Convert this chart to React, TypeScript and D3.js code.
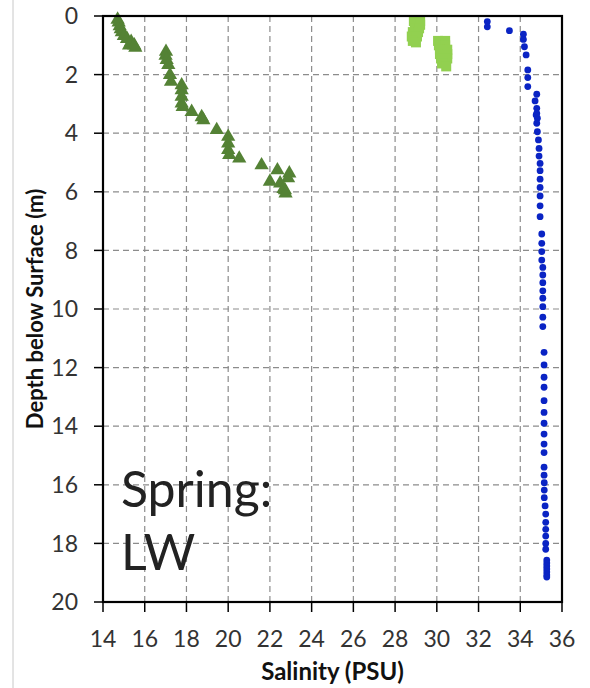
import React from "react";
import * as d3 from "d3";

const xTicks = [14, 16, 18, 20, 22, 24, 26, 28, 30, 32, 34, 36];
const yTicks = [0, 2, 4, 6, 8, 10, 12, 14, 16, 18, 20];

const triS = [14.7, 14.75, 14.8, 14.85, 14.9, 15.0, 15.15, 15.35, 15.25, 15.5, 15.55,
  17.02, 17.0, 17.05, 17.13, 17.21, 17.26, 17.77, 17.77, 17.77, 17.77, 17.82, 18.25, 18.73, 18.81, 19.45,
  20.0, 20.0, 20.0, 20.05, 20.53, 21.6, 22.36, 22.93, 22.87, 22.0, 22.49, 22.65, 22.72, 22.75];
const triD = [0.12, 0.22, 0.35, 0.45, 0.55, 0.68, 0.78, 0.88, 1.0, 1.0, 1.08,
  1.22, 1.35, 1.5, 1.67, 2.01, 2.24, 2.36, 2.53, 2.75, 2.98, 3.1, 3.27, 3.45, 3.55, 3.89,
  4.12, 4.35, 4.57, 4.74, 4.86, 5.09, 5.26, 5.37, 5.53, 5.65, 5.71, 5.9, 5.94, 6.05];

const sqS = [28.9, 29.2, 28.95, 29.2, 29.0, 29.15, 28.85, 29.1, 28.8, 29.05, 28.85, 29.0,
  30.06, 30.4, 30.1, 30.4, 30.15, 30.5, 30.15, 30.5, 30.2, 30.5, 30.25, 30.45];
const sqD = [0.17, 0.17, 0.3, 0.3, 0.42, 0.42, 0.55, 0.55, 0.7, 0.7, 0.85, 0.9,
  0.85, 0.85, 1.0, 1.0, 1.15, 1.15, 1.3, 1.3, 1.45, 1.45, 1.62, 1.72];

const dotS = [32.42, 32.42, 33.48, 34.15, 34.15, 34.2, 34.28, 34.36, 34.36, 34.36,
  34.79, 34.71, 34.79, 34.79, 34.82, 34.76, 34.79, 34.82, 34.87, 34.9, 34.9, 34.95, 34.95, 34.95, 34.95, 34.95, 34.95, 34.95,
  35.03, 35.03, 35.03, 35.03, 35.08, 35.08, 35.08, 35.08, 35.08, 35.08, 35.08, 35.08,
  35.14, 35.14, 35.14, 35.14, 35.14, 35.14, 35.14, 35.14, 35.14, 35.14, 35.14, 35.14, 35.15, 35.15, 35.15,
  35.19, 35.22, 35.22, 35.22, 35.22, 35.22, 35.22,
  35.27, 35.27, 35.27, 35.27, 35.27, 35.27, 35.27];
const dotD = [0.19, 0.37, 0.5, 0.62, 0.8, 1.05, 1.33, 1.84, 2.1, 2.41,
  2.67, 2.9, 3.15, 3.32, 3.49, 3.38, 3.66, 3.95, 4.23, 4.52, 4.78, 5.03, 5.28, 5.57, 5.85, 6.14, 6.48, 6.85,
  7.44, 7.76, 8.04, 8.33, 8.58, 8.84, 9.1, 9.38, 9.63, 9.92, 10.28, 10.6,
  11.48, 11.91, 12.33, 12.67, 13.13, 13.53, 13.9, 14.27, 14.61, 14.9, 15.4, 15.67, 15.93, 16.18, 16.44,
  16.72, 17.0, 17.28, 17.52, 17.75, 18.0, 18.2,
  18.57, 18.67, 18.77, 18.87, 18.98, 19.08, 19.15];

const W = 590, H = 688;
const L = 103, R = 562, T = 16, B = 602;

export default function App() {
  const x = d3.scaleLinear().domain([14, 36]).range([L, R]);
  const y = d3.scaleLinear().domain([0, 20]).range([T, B]);
  const tri = d3.symbol().type(d3.symbolTriangle).size(88)() as string;
  const font = "Lato, 'Open Sans', sans-serif";
  const sq = 10;
  return (
    <svg width={W} height={H} style={{ position: "absolute", left: 0, top: 0, background: "#fff" }}>
      <rect x={0} y={0} width={W} height={H} fill="#fff" />
      <line x1={13} x2={13} y1={0} y2={H} stroke="#c8c8c8" strokeWidth={1} />
      {xTicks.slice(1, -1).map((t) => (
        <line key={"gx" + t} x1={x(t)} x2={x(t)} y1={T} y2={B} stroke="#8c8c8c" strokeWidth={1.2} strokeDasharray="6,4" />
      ))}
      {yTicks.slice(1, -1).map((t) => (
        <line key={"gy" + t} x1={L} x2={R} y1={y(t)} y2={y(t)} stroke="#8c8c8c" strokeWidth={1.2} strokeDasharray="6,4" />
      ))}
      {triS.map((s, i) => (
        <path key={"t" + i} d={tri} transform={`translate(${x(s)},${y(triD[i])})`} fill="#548235" />
      ))}
      {sqS.map((s, i) => (
        <rect key={"s" + i} x={x(s) - sq / 2} y={y(sqD[i]) - sq / 2} width={sq} height={sq} fill="#92d050" />
      ))}
      {dotS.map((s, i) => (
        <circle key={"d" + i} cx={x(s)} cy={y(dotD[i])} r={3.4} fill="#0a24c4" />
      ))}
      <rect x={L} y={T} width={R - L} height={B - T} fill="none" stroke="#000" strokeWidth={2.2} />
      {xTicks.map((t) => (
        <g key={"xt" + t}>
          <line x1={x(t)} x2={x(t)} y1={B} y2={B + 10} stroke="#000" strokeWidth={1.5} />
          <text x={x(t)} y={B + 45} textAnchor="middle" fontSize={23} fontFamily={font} fill="#333">{t}</text>
        </g>
      ))}
      {yTicks.map((t) => (
        <g key={"yt" + t}>
          <line x1={L - 9} x2={L} y1={y(t)} y2={y(t)} stroke="#000" strokeWidth={1.5} />
          <text x={78} y={y(t)} dy="0.36em" textAnchor="end" fontSize={23} fontFamily={font} fill="#333">{t}</text>
        </g>
      ))}
      <text x={(L + R) / 2} y={680} textAnchor="middle" fontSize={24} fontWeight="bold" fontFamily={font} fill="#111">Salinity (PSU)</text>
      <text transform={`translate(43,${(T + B) / 2}) rotate(-90)`} textAnchor="middle" fontSize={22} fontWeight="bold" fontFamily={font} fill="#111">Depth below Surface (m)</text>
      <text x={121} y={507} fontSize={50} fontFamily={font} fill="#222">Spring:</text>
      <text x={121} y={570} fontSize={50} fontFamily={font} fill="#222">LW</text>
    </svg>
  );
}
